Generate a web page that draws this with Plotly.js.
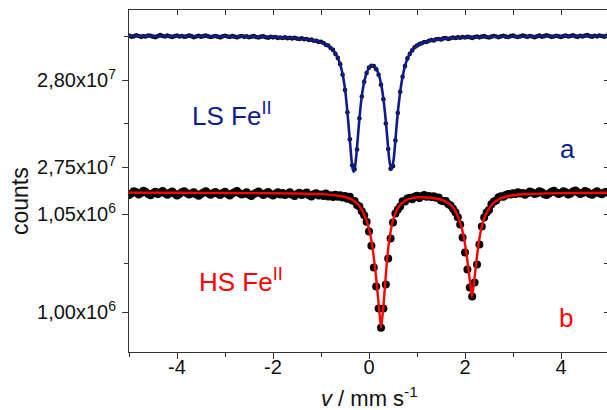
<!DOCTYPE html>
<html>
<head>
<meta charset="utf-8">
<script src="https://cdn.plot.ly/plotly-3.0.1.min.js"></script>
<style>
html,body{margin:0;padding:0;overflow:hidden;background:#fff;}
#chart{width:610px;height:410px;}
</style>
</head>
<body>
<div id="chart"></div>
<script>
// Velocity grid of the measured spectra (mm/s): first channel and channel step
const velocityStart = -5;
const velocityStep = 0.05;

// (a) LS Fe(II) spectrum, counts in units of 10^7
const lsCounts = [
2.8255,2.8249,2.8251,2.8257,2.8253,2.8248,2.8252,2.8250,2.8256,2.8254,
2.8249,2.8246,2.8252,2.8258,2.8253,2.8250,2.8255,2.8251,2.8247,2.8252,
2.8256,2.8250,2.8253,2.8248,2.8251,2.8255,2.8252,2.8246,2.8250,2.8254,
2.8249,2.8252,2.8255,2.8251,2.8247,2.8250,2.8253,2.8249,2.8245,2.8251,
2.8254,2.8250,2.8248,2.8252,2.8249,2.8245,2.8250,2.8253,2.8248,2.8251,
2.8246,2.8249,2.8252,2.8247,2.8244,2.8249,2.8251,2.8246,2.8243,2.8248,
2.8245,2.8247,2.8242,2.8244,2.8241,2.8245,2.8240,2.8243,2.8239,2.8243,
2.8238,2.8236,2.8240,2.8234,2.8236,2.8230,2.8232,2.8226,2.8226,2.8219,
2.8220,2.8213,2.8203,2.8198,2.8184,2.8173,2.8150,2.8127,2.8091,2.8030,
2.7942,2.7815,2.7660,2.7510,2.7487,2.7600,2.7780,2.7905,2.7990,2.8040,
2.8071,2.8082,2.8080,2.8062,2.8030,2.7972,2.7890,2.7750,2.7603,2.7490,
2.7505,2.7653,2.7810,2.7932,2.8018,2.8080,2.8124,2.8150,2.8170,2.8188,
2.8198,2.8206,2.8211,2.8218,2.8218,2.8226,2.8230,2.8227,2.8234,2.8236,
2.8233,2.8239,2.8241,2.8236,2.8240,2.8244,2.8241,2.8245,2.8243,2.8247,
2.8244,2.8248,2.8246,2.8242,2.8247,2.8250,2.8245,2.8249,2.8252,2.8247,
2.8244,2.8249,2.8253,2.8250,2.8246,2.8251,2.8254,2.8249,2.8247,2.8252,
2.8255,2.8250,2.8247,2.8251,2.8256,2.8252,2.8248,2.8253,2.8250,2.8246,
2.8251,2.8255,2.8249,2.8252,2.8257,2.8253,2.8248,2.8250,2.8254,2.8251,
2.8247,2.8252,2.8256,2.8250,2.8253,2.8257,2.8251,2.8248,2.8254,2.8250,
2.8255,2.8258,2.8252,2.8249,2.8254,2.8251,2.8256,2.8253,2.8249,2.8254,
2.8252];

// (a) fitted curve
const lsFitV = [-5,-4,-3,-2.5,-2,-1.6,-1.3,-1.1,-0.95,-0.85,-0.75,-0.68,-0.62,-0.57,-0.53,-0.49,-0.46,-0.43,-0.40,-0.37,-0.345,-0.32,-0.295,-0.27,-0.24,-0.21,-0.18,-0.15,-0.12,-0.08,-0.04,0,0.04,0.075,0.11,0.15,0.19,0.23,0.27,0.30,0.33,0.36,0.39,0.42,0.445,0.47,0.495,0.52,0.55,0.58,0.61,0.65,0.69,0.74,0.80,0.87,0.95,1.05,1.2,1.4,1.7,2.1,2.6,3.2,4,5];
const lsFit = [2.82529,2.82523,2.82506,2.82494,2.82465,2.82414,2.82339,2.82241,2.82109,2.81960,2.81712,2.81431,2.81063,2.80592,2.80040,2.79264,2.78460,2.77540,2.76563,2.75586,2.74954,2.74724,2.74925,2.75500,2.76448,2.77454,2.78345,2.79063,2.79609,2.80126,2.80471,2.80684,2.80799,2.80827,2.80787,2.80655,2.80414,2.80040,2.79494,2.78919,2.78201,2.77339,2.76391,2.75471,2.75069,2.74868,2.75127,2.75586,2.76535,2.77540,2.78402,2.79322,2.80040,2.80701,2.81218,2.81592,2.81850,2.82046,2.82207,2.82322,2.82408,2.82460,2.82488,2.82506,2.82520,2.82529];

// (b) HS Fe(II) spectrum, counts in units of 10^6
const hsCounts = [
1.0598,1.0606,1.0618,1.0612,1.0601,1.0609,1.0620,1.0614,1.0603,1.0597,
1.0608,1.0615,1.0604,1.0611,1.0619,1.0607,1.0600,1.0610,1.0616,1.0605,
1.0596,1.0603,1.0612,1.0618,1.0609,1.0601,1.0606,1.0613,1.0602,1.0595,
1.0604,1.0611,1.0617,1.0608,1.0600,1.0607,1.0614,1.0605,1.0598,1.0609,
1.0615,1.0603,1.0596,1.0606,1.0613,1.0619,1.0608,1.0601,1.0605,1.0612,
1.0600,1.0594,1.0603,1.0610,1.0616,1.0606,1.0599,1.0608,1.0614,1.0602,
1.0596,1.0605,1.0613,1.0601,1.0609,1.0598,1.0604,1.0612,1.0600,1.0593,
1.0603,1.0610,1.0598,1.0605,1.0611,1.0597,1.0591,1.0602,1.0608,1.0596,
1.0601,1.0594,1.0606,1.0591,1.0597,1.0588,1.0600,1.0590,1.0597,1.0586,
1.0593,1.0579,1.0590,1.0570,1.0568,1.0548,1.0540,1.0515,1.0495,1.0462,
1.0412,1.0340,1.0229,1.0132,1.0020,0.9921,1.0020,1.0142,1.0275,1.0377,
1.0458,1.0504,1.0525,1.0540,1.0566,1.0565,1.0581,1.0584,1.0577,1.0590,
1.0595,1.0583,1.0593,1.0598,1.0589,1.0594,1.0588,1.0592,1.0584,1.0586,
1.0571,1.0566,1.0568,1.0552,1.0545,1.0528,1.0510,1.0485,1.0448,1.0382,
1.0305,1.0219,1.0127,1.0081,1.0152,1.0244,1.0346,1.0438,1.0484,1.0509,
1.0522,1.0551,1.0565,1.0571,1.0587,1.0592,1.0589,1.0598,1.0603,1.0601,
1.0608,1.0603,1.0612,1.0606,1.0609,1.0600,1.0607,1.0616,1.0611,1.0603,
1.0608,1.0617,1.0612,1.0602,1.0599,1.0606,1.0615,1.0620,1.0611,1.0604,
1.0609,1.0618,1.0613,1.0601,1.0606,1.0616,1.0621,1.0612,1.0604,1.0609,
1.0619,1.0614,1.0603,1.0600,1.0610,1.0617,1.0608,1.0602,1.0611,1.0615,
1.0606];

// (b) fitted curve
const hsFitV = [-5,-4,-3,-2,-1.5,-1.0,-0.8,-0.6,-0.45,-0.35,-0.25,-0.15,-0.08,-0.02,0.03,0.07,0.10,0.13,0.16,0.19,0.22,0.25,0.28,0.31,0.34,0.37,0.40,0.44,0.48,0.53,0.60,0.68,0.78,0.9,1.05,1.2,1.35,1.5,1.6,1.7,1.78,1.85,1.92,1.98,2.03,2.08,2.115,2.145,2.175,2.21,2.25,2.29,2.34,2.40,2.48,2.58,2.70,2.85,3.0,3.3,3.7,4.3,5.0];
const hsFit = [1.06105,1.06100,1.06089,1.06074,1.06059,1.06028,1.05992,1.05931,1.05844,1.05742,1.05553,1.05222,1.04865,1.04431,1.03921,1.03360,1.02799,1.02186,1.01472,1.00707,0.99941,0.99227,0.99788,1.00605,1.01574,1.02492,1.03258,1.03972,1.04482,1.04916,1.05299,1.05553,1.05732,1.05829,1.05870,1.05860,1.05819,1.05742,1.05645,1.05477,1.05247,1.04916,1.04406,1.03768,1.03003,1.02033,1.01370,1.00809,1.01268,1.01982,1.02850,1.03615,1.04278,1.04788,1.05197,1.05553,1.05758,1.05896,1.05972,1.06033,1.06069,1.06089,1.06100];

// Tick labels
const xTickVals = [-4,-2,0,2,4];
const xTickText = ['-4','-2','0','2','4'];
const xMinorVals = [-5,-3,-1,1,3,5];
const xTopVals = [-5,-4,-3,-2,-1,0,1,2,3,4,5];
const hsTickVals = [1.00,1.05];
const hsTickText = ['1,00x10<sup>6</sup>','1,05x10<sup>6</sup>'];
const hsMinorVals = [1.025];
const lsTickVals = [2.75,2.80];
const lsTickText = ['2,75x10<sup>7</sup>','2,80x10<sup>7</sup>'];
const lsMinorVals = [2.775,2.825];

const navy = '#101c8c';
const red = '#ff0000';
const axisCol = '#333333';
const hsRange = [0.979745,1.154234];
const lsRange = [2.64368,2.84023];

const traces = [
  {x0: velocityStart, dx: velocityStep, y: lsCounts, xaxis:'x', yaxis:'y2', type:'scatter', mode:'markers',
   marker:{color:'#111', size:4.6}},
  {x: lsFitV, y: lsFit, xaxis:'x', yaxis:'y2', type:'scatter', mode:'lines',
   line:{color:navy, width:2.6, shape:'spline', smoothing:0.6}},
  {x0: velocityStart, dx: velocityStep, y: hsCounts, xaxis:'x', yaxis:'y', type:'scatter', mode:'markers',
   marker:{color:'#000', size:8}},
  {x: hsFitV, y: hsFit, xaxis:'x', yaxis:'y', type:'scatter', mode:'lines',
   line:{color:red, width:2.4, shape:'spline', smoothing:0.6}},
  // frame helpers (top and right ticks)
  {x:[], y:[], xaxis:'x2', yaxis:'y3', type:'scatter', mode:'markers'},
  {x:[], y:[], xaxis:'x2', yaxis:'y4', type:'scatter', mode:'markers'}
];

const commonAx = {showgrid:false, zeroline:false, showline:true, linecolor:axisCol, linewidth:1,
  tickcolor:axisCol, tickwidth:1};

const layout = {
  width: 610, height: 410,
  margin: {l:129, r:1, t:10, b:58},
  paper_bgcolor:'#ffffff', plot_bgcolor:'#ffffff',
  showlegend:false,
  font:{family:'Liberation Sans, Arial, sans-serif', size:20, color:'#111'},
  xaxis: Object.assign({}, commonAx, {
    range:[-5,5], tickmode:'array', tickvals:xTickVals, ticktext:xTickText,
    ticks:'outside', ticklen:6, ticklabelstandoff:-9,
    minor:{tickmode:'array', tickvals:xMinorVals, ticks:'outside', ticklen:4, tickcolor:axisCol},
    anchor:'y'
  }),
  xaxis2: Object.assign({}, commonAx, {
    overlaying:'x', side:'top', range:[-5,5], tickmode:'array', tickvals:xTopVals,
    ticks:'inside', ticklen:5, showticklabels:false, anchor:'y'
  }),
  yaxis: Object.assign({}, commonAx, {
    range:hsRange, tickmode:'array', tickvals:hsTickVals, ticktext:hsTickText,
    ticks:'outside', ticklen:6, ticklabelstandoff:2,
    minor:{tickmode:'array', tickvals:hsMinorVals, ticks:'outside', ticklen:4, tickcolor:axisCol}
  }),
  yaxis2: Object.assign({}, commonAx, {
    overlaying:'y', side:'left', range:lsRange, tickmode:'array', tickvals:lsTickVals, ticktext:lsTickText,
    ticks:'outside', ticklen:6, showline:false, ticklabelstandoff:2,
    minor:{tickmode:'array', tickvals:lsMinorVals, ticks:'outside', ticklen:4, tickcolor:axisCol}
  }),
  yaxis3: Object.assign({}, commonAx, {
    overlaying:'y', side:'right', range:hsRange, tickmode:'array', tickvals:[1.00,1.025,1.05],
    ticks:'inside', ticklen:5, showticklabels:false, anchor:'x2'
  }),
  yaxis4: Object.assign({}, commonAx, {
    overlaying:'y', side:'right', range:lsRange, tickmode:'array', tickvals:[2.75,2.775,2.80,2.825],
    ticks:'inside', ticklen:5, showticklabels:false, showline:false, anchor:'x2'
  }),
  annotations: [
    {text:'LS Fe<sup>II</sup>', xref:'x', yref:'paper', x:-3.735, y:0.695, xanchor:'left', yanchor:'middle',
     showarrow:false, font:{size:26, color:navy}},
    {text:'a', xref:'x', yref:'paper', x:4.14, y:0.594, xanchor:'center', yanchor:'middle',
     showarrow:false, font:{size:26, color:navy}},
    {text:'HS Fe<sup>II</sup>', xref:'x', yref:'paper', x:-3.58, y:0.208, xanchor:'left', yanchor:'middle',
     showarrow:false, font:{size:26, color:red}},
    {text:'b', xref:'x', yref:'paper', x:4.11, y:0.099, xanchor:'center', yanchor:'middle',
     showarrow:false, font:{size:26, color:red}},
    {text:'counts', xref:'paper', yref:'paper', x:-0.228, y:0.44, xanchor:'center', yanchor:'middle',
     textangle:-90, showarrow:false, font:{size:23, color:'#111'}},
    {text:'<i>v</i> / mm s<sup>-1</sup>', xref:'x', yref:'paper', x:0.02, y:-0.132, xanchor:'center', yanchor:'middle',
     showarrow:false, font:{size:22, color:'#111'}}
  ]
};

Plotly.newPlot('chart', traces, layout, {staticPlot:true, displayModeBar:false});
</script>
</body>
</html>
